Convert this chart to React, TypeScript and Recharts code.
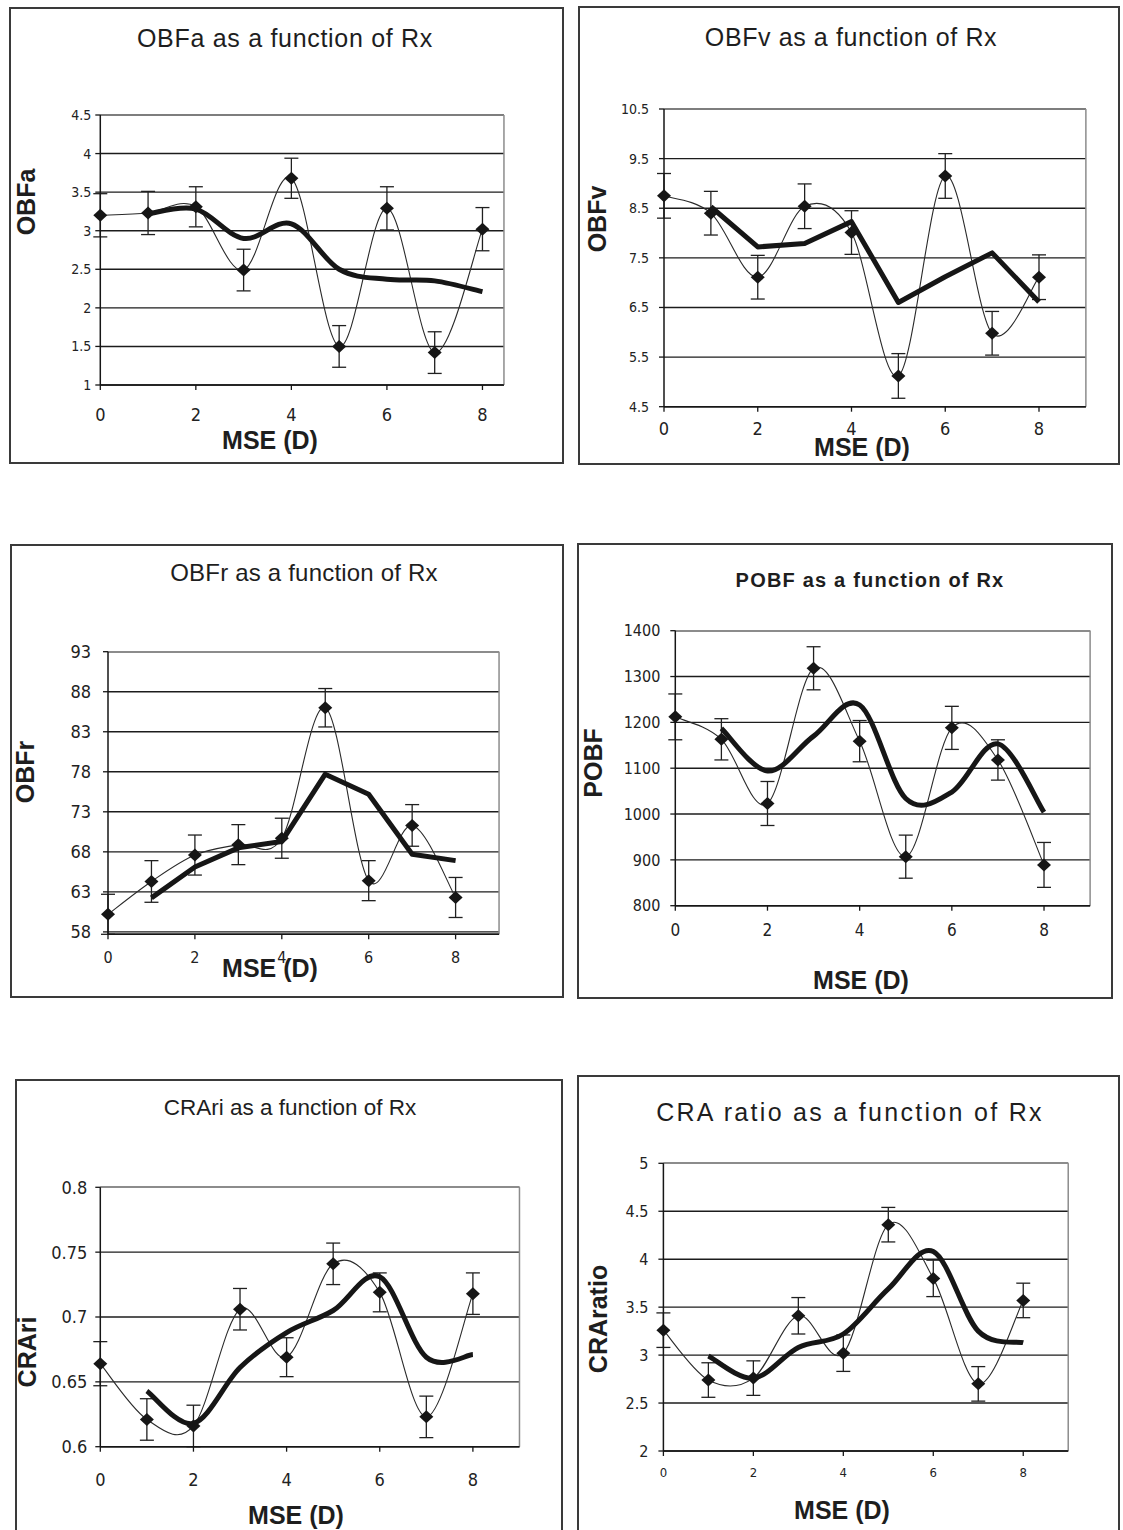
import React from "react";
import {
  LineChart,
  Line,
  XAxis,
  YAxis,
  CartesianGrid,
  ErrorBar,
  ReferenceLine,
} from "recharts";

// refraction steps on the x axis (MSE, dioptres)
const mse = [0, 1, 2, 3, 4, 5, 6, 7, 8];
const xTicks = [0, 2, 4, 6, 8];

// OBFa
const obfaMean = [3.2, 3.23, 3.31, 2.49, 3.68, 1.5, 3.29, 1.42, 3.02];
const obfaErr = [0.28, 0.28, 0.26, 0.27, 0.26, 0.27, 0.28, 0.27, 0.28];
const obfaTrend = [null, 3.22, 3.28, 2.9, 3.09, 2.5, 2.37, 2.35, 2.21];
const obfaTicks = [1, 1.5, 2, 2.5, 3, 3.5, 4, 4.5];

// OBFv
const obfvMean = [8.75, 8.4, 7.11, 8.54, 8.01, 5.12, 9.15, 5.98, 7.11];
const obfvErr = [0.45, 0.44, 0.44, 0.45, 0.44, 0.45, 0.45, 0.44, 0.45];
const obfvTrend = [null, 8.53, 7.72, 7.79, 8.23, 6.6, 7.12, 7.6, 6.61];
const obfvTicks = [4.5, 5.5, 6.5, 7.5, 8.5, 9.5, 10.5];

// OBFr
const obfrMean = [60.2, 64.3, 67.6, 68.9, 69.7, 86.0, 64.4, 71.3, 62.3];
const obfrErr = [2.5, 2.6, 2.5, 2.5, 2.5, 2.4, 2.5, 2.6, 2.5];
const obfrTrend = [null, 62.25, 66.1, 68.5, 69.3, 77.7, 75.2, 67.7, 66.9];
const obfrTicks = [58, 63, 68, 73, 78, 83, 88, 93];

// POBF
const pobfMean = [1212, 1163, 1023, 1318, 1159, 907, 1188, 1118, 889];
const pobfErr = [50, 45, 48, 47, 45, 47, 47, 44, 49];
const pobfTrend = [null, 1187, 1094, 1170, 1238, 1034, 1048, 1153, 1004];
const pobfTicks = [800, 900, 1000, 1100, 1200, 1300, 1400];

// CRAri
const crariMean = [0.664, 0.621, 0.616, 0.706, 0.669, 0.741, 0.719, 0.623, 0.718];
const crariErr = [0.017, 0.016, 0.016, 0.016, 0.015, 0.016, 0.015, 0.016, 0.016];
const crariTrend = [null, 0.643, 0.618, 0.661, 0.688, 0.705, 0.731, 0.669, 0.671];
const crariTicks = [0.6, 0.65, 0.7, 0.75, 0.8];

// CRA ratio
const craRatioMean = [3.26, 2.74, 2.76, 3.41, 3.02, 4.36, 3.8, 2.7, 3.57];
const craRatioErr = [0.18, 0.18, 0.18, 0.19, 0.19, 0.18, 0.19, 0.18, 0.18];
const craRatioTrend = [null, 2.99, 2.76, 3.08, 3.22, 3.69, 4.08, 3.25, 3.13];
const craRatioTicks = [2, 2.5, 3, 3.5, 4, 4.5, 5];

type Row = { x: number; mean: number; err: number; trend: number | null };

function buildRows(mean: number[], err: number[], trend: (number | null)[]): Row[] {
  return mse.map((x, i) => ({ x, mean: mean[i], err: err[i], trend: trend[i] }));
}

// Excel-style smoothed line: cubic Bezier through every point,
// tangents taken from the neighbouring points (Catmull-Rom, 1/6 handles)
const excelSmooth = (context: any) => {
  let pts: [number, number][] = [];
  return {
    areaStart() {},
    areaEnd() {},
    lineStart() {
      pts = [];
    },
    point(x: number, y: number) {
      pts.push([+x, +y]);
    },
    lineEnd() {
      const n = pts.length;
      if (!n) return;
      context.moveTo(pts[0][0], pts[0][1]);
      for (let i = 0; i < n - 1; i++) {
        const p0 = pts[Math.max(i - 1, 0)];
        const p1 = pts[i];
        const p2 = pts[i + 1];
        const p3 = pts[Math.min(i + 2, n - 1)];
        context.bezierCurveTo(
          p1[0] + (p2[0] - p0[0]) / 6,
          p1[1] + (p2[1] - p0[1]) / 6,
          p2[0] - (p3[0] - p1[0]) / 6,
          p2[1] - (p3[1] - p1[1]) / 6,
          p2[0],
          p2[1]
        );
      }
    },
  };
};

const INK = "#161616";
const TICK_FONT = "'Liberation Sans Narrow', 'Arial Narrow', 'DejaVu Sans Condensed', 'Liberation Sans', sans-serif";
const LABEL_FONT = "'Liberation Sans', Arial, sans-serif";
// room reserved for the axes inside the chart margins
const Y_AXIS_W = 40;
const X_AXIS_H = 30;

const Diamond = (props: any) => {
  const { cx, cy, index } = props;
  if (cx == null || cy == null) return <g key={`d-${index}`} />;
  return (
    <polygon
      key={`d-${index}`}
      points={`${cx},${cy - 6.5} ${cx + 7},${cy} ${cx},${cy + 6.5} ${cx - 7},${cy}`}
      fill={INK}
    />
  );
};

type PanelConfig = {
  title: string;
  yLabel: string;
  rows: Row[];
  yTicks: number[];
  trendSmooth: boolean;
  box: [number, number, number, number];
  plot: { x0: number; unit: number; top: number; bottom: number };
  xMax: number;
  titleAt: [number, number];
  titleStyle: React.CSSProperties;
  yLabelAt: [number, number];
  xLabelAt: [number, number];
  yTickFont: number;
  yTickMargin: number;
  xTickFont: number;
  xTickMargin: number;
};

const panels: PanelConfig[] = [
  {
    title: "OBFa as a function of Rx",
    yLabel: "OBFa",
    rows: buildRows(obfaMean, obfaErr, obfaTrend),
    yTicks: obfaTicks,
    trendSmooth: true,
    box: [9, 7, 564, 464],
    plot: { x0: 100.3, unit: 47.77, top: 115, bottom: 385 },
    xMax: 8.45,
    titleAt: [285, 38],
    titleStyle: { fontSize: 25, letterSpacing: 0.7 },
    yLabelAt: [26, 202],
    xLabelAt: [270, 440],
    yTickFont: 14,
    yTickMargin: 4,
    xTickFont: 18,
    xTickMargin: 18,
  },
  {
    title: "OBFv as a function of Rx",
    yLabel: "OBFv",
    rows: buildRows(obfvMean, obfvErr, obfvTrend),
    yTicks: obfvTicks,
    trendSmooth: false,
    box: [578, 6, 1120, 465],
    plot: { x0: 664, unit: 46.875, top: 109, bottom: 406.7 },
    xMax: 9,
    titleAt: [851, 37],
    titleStyle: { fontSize: 25, letterSpacing: 0.6 },
    yLabelAt: [597, 219],
    xLabelAt: [862, 447],
    yTickFont: 14,
    yTickMargin: 10,
    xTickFont: 18,
    xTickMargin: 11,
  },
  {
    title: "OBFr as a function of Rx",
    yLabel: "OBFr",
    rows: buildRows(obfrMean, obfrErr, obfrTrend),
    yTicks: obfrTicks,
    trendSmooth: false,
    box: [10, 544, 564, 998],
    plot: { x0: 108, unit: 43.45, top: 651.7, bottom: 934.3 },
    xMax: 9,
    titleAt: [304, 573],
    titleStyle: { fontSize: 24, letterSpacing: 0.2 },
    yLabelAt: [25, 772],
    xLabelAt: [270, 968],
    yTickFont: 18,
    yTickMargin: 12,
    xTickFont: 16,
    xTickMargin: 12,
  },
  {
    title: "POBF as a function of Rx",
    yLabel: "POBF",
    rows: buildRows(pobfMean, pobfErr, pobfTrend),
    yTicks: pobfTicks,
    trendSmooth: true,
    box: [577, 543, 1113, 999],
    plot: { x0: 675.3, unit: 46.09, top: 630.7, bottom: 905.7 },
    xMax: 9,
    titleAt: [870, 580],
    titleStyle: { fontSize: 20, fontWeight: "bold", letterSpacing: 1.2 },
    yLabelAt: [593, 763],
    xLabelAt: [861, 980],
    yTickFont: 16,
    yTickMargin: 10,
    xTickFont: 17,
    xTickMargin: 13,
  },
  {
    title: "CRAri as a function of Rx",
    yLabel: "CRAri",
    rows: buildRows(crariMean, crariErr, crariTrend),
    yTicks: crariTicks,
    trendSmooth: true,
    box: [15, 1079, 563, 1534],
    plot: { x0: 100.3, unit: 46.575, top: 1187.3, bottom: 1446.7 },
    xMax: 9,
    titleAt: [290, 1108],
    titleStyle: { fontSize: 22.5 },
    yLabelAt: [27, 1352],
    xLabelAt: [296, 1515],
    yTickFont: 18,
    yTickMargin: 8,
    xTickFont: 18,
    xTickMargin: 22,
  },
  {
    title: "CRA ratio as a function of Rx",
    yLabel: "CRAratio",
    rows: buildRows(craRatioMean, craRatioErr, craRatioTrend),
    yTicks: craRatioTicks,
    trendSmooth: true,
    box: [577, 1075, 1120, 1534],
    plot: { x0: 663.4, unit: 44.98, top: 1163.3, bottom: 1451 },
    xMax: 9,
    titleAt: [850, 1112],
    titleStyle: { fontSize: 25, letterSpacing: 2.3 },
    yLabelAt: [598, 1319],
    xLabelAt: [842, 1510],
    yTickFont: 16,
    yTickMargin: 10,
    xTickFont: 13,
    xTickMargin: 12,
  },
];

function Panel({ cfg }: { cfg: PanelConfig }) {
  const [l, t, r, b] = cfg.box;
  const w = r - l;
  const h = b - t;
  const plotRight = cfg.plot.x0 + cfg.plot.unit * cfg.xMax;
  const margin = {
    left: cfg.plot.x0 - l - Y_AXIS_W,
    top: cfg.plot.top - t,
    right: r - plotRight,
    bottom: b - cfg.plot.bottom - X_AXIS_H,
  };
  const yMin = cfg.yTicks[0];
  const yMax = cfg.yTicks[cfg.yTicks.length - 1];
  const textStyle: React.CSSProperties = {
    position: "absolute",
    whiteSpace: "nowrap",
    fontFamily: LABEL_FONT,
    color: "#1e1e1e",
  };

  return (
    <>
      <div
        style={{
          position: "absolute",
          left: l,
          top: t,
          width: w,
          height: h,
          border: "2px solid #3a3a3a",
          boxSizing: "border-box",
        }}
      />
      <div
        style={{
          ...textStyle,
          left: cfg.titleAt[0],
          top: cfg.titleAt[1],
          transform: "translate(-50%, -50%)",
          ...cfg.titleStyle,
        }}
      >
        {cfg.title}
      </div>
      <div
        style={{
          ...textStyle,
          left: cfg.yLabelAt[0],
          top: cfg.yLabelAt[1],
          transform: "translate(-50%, -50%) rotate(-90deg)",
          fontWeight: "bold",
          fontSize: 25,
        }}
      >
        {cfg.yLabel}
      </div>
      <div
        style={{
          ...textStyle,
          left: cfg.xLabelAt[0],
          top: cfg.xLabelAt[1],
          transform: "translate(-50%, -50%)",
          fontWeight: "bold",
          fontSize: 25,
        }}
      >
        MSE (D)
      </div>
      <div style={{ position: "absolute", left: l, top: t }}>
        <LineChart width={w} height={h} data={cfg.rows} margin={margin}>
          <CartesianGrid
            horizontal
            vertical={false}
            stroke="#1c1c1c"
            strokeWidth={1.4}
          />
          <ReferenceLine y={yMax} stroke="#8c8c8c" strokeWidth={1.5} />
          <ReferenceLine x={cfg.xMax} stroke="#8c8c8c" strokeWidth={1.5} />
          <XAxis
            dataKey="x"
            type="number"
            domain={[0, cfg.xMax]}
            ticks={xTicks}
            interval={0}
            height={X_AXIS_H}
            tickSize={5}
            tickMargin={cfg.xTickMargin}
            axisLine={{ stroke: INK, strokeWidth: 1.5 }}
            tickLine={{ stroke: INK, strokeWidth: 1.3 }}
            tick={{ fontSize: cfg.xTickFont, fill: "#222", fontFamily: TICK_FONT }}
          />
          <YAxis
            type="number"
            domain={[yMin, yMax]}
            ticks={cfg.yTicks}
            interval={0}
            width={Y_AXIS_W}
            tickSize={5}
            tickMargin={cfg.yTickMargin}
            axisLine={{ stroke: INK, strokeWidth: 1.5 }}
            tickLine={{ stroke: INK, strokeWidth: 1.3 }}
            tick={{ fontSize: cfg.yTickFont, fill: "#222", fontFamily: TICK_FONT }}
          />
          <Line
            dataKey="mean"
            type={excelSmooth as any}
            stroke="#2a2a2a"
            strokeWidth={1.1}
            dot={Diamond}
            activeDot={false}
            isAnimationActive={false}
          >
            <ErrorBar
              dataKey="err"
              direction="y"
              width={7}
              stroke="#202020"
              strokeWidth={1.3}
              isAnimationActive={false}
            />
          </Line>
          <Line
            dataKey="trend"
            type={cfg.trendSmooth ? (excelSmooth as any) : "linear"}
            stroke={INK}
            strokeWidth={5}
            strokeLinejoin="round"
            dot={false}
            activeDot={false}
            isAnimationActive={false}
          />
        </LineChart>
      </div>
    </>
  );
}

export default function App() {
  return (
    <div
      style={{
        position: "absolute",
        left: 0,
        top: 0,
        width: 1123,
        height: 1530,
        overflow: "hidden",
        background: "#fff",
      }}
    >
      {panels.map((cfg) => (
        <Panel key={cfg.title} cfg={cfg} />
      ))}
    </div>
  );
}
